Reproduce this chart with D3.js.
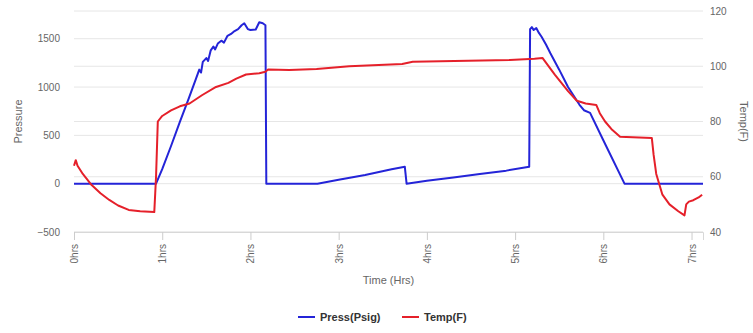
<!DOCTYPE html>
<html><head><meta charset="utf-8">
<script src="https://cdn.jsdelivr.net/npm/d3@7"></script>
<style>
body{margin:0;background:#fff;}
svg{display:block;font-family:"Liberation Sans",Arial,sans-serif;}
</style></head>
<body><svg id="c" width="753" height="333"></svg>
<script>
// Time (hours) and values
const pressTime = [0,0.93,1.0,1.1,1.2,1.3,1.38,1.42,1.44,1.46,1.5,1.52,1.55,1.58,1.6,1.63,1.67,1.7,1.74,1.78,1.82,1.86,1.9,1.93,1.97,2.0,2.06,2.1,2.14,2.17,2.18,2.76,3.0,3.3,3.6,3.75,3.77,4.0,4.3,4.6,4.9,5.16,5.17,5.19,5.21,5.24,5.27,5.3,5.35,5.4,5.5,5.6,5.73,5.78,5.85,6.0,6.24,7.13];
const pressVal  = [0,0,150,390,640,880,1080,1180,1150,1260,1300,1270,1380,1420,1390,1450,1480,1460,1530,1550,1580,1600,1640,1660,1600,1590,1595,1670,1660,1640,0,0,40,90,150,175,0,30,65,100,135,175,1600,1620,1590,1610,1560,1520,1440,1350,1180,1000,816,760,733,450,0,0];
const tempTime = [0,0.02,0.04,0.1,0.2,0.3,0.4,0.5,0.62,0.75,0.91,0.93,0.95,1.0,1.1,1.2,1.31,1.45,1.61,1.75,1.84,1.95,2.1,2.17,2.2,2.44,2.75,3.12,3.72,3.84,4.94,5.22,5.31,5.45,5.6,5.7,5.8,5.92,5.96,6.02,6.1,6.19,6.55,6.57,6.6,6.67,6.75,6.85,6.92,6.94,6.97,7.02,7.08,7.12];
const tempVal  = [64,66,64,61,57,54,51.6,49.6,48,47.5,47.2,60,80,82,84,85.5,86.5,89.5,92.5,94,95.5,97,97.5,98,98.8,98.6,99,100,100.8,101.6,102.3,102.7,103,97,91,87.5,86.5,86,83,80,77,74.5,74,68,61,53.5,50,47.5,46,50,51,51.5,52.5,53.5];
const hourTicks = [0,1,2,3,4,5,6,7];
const pressTicks = [-500,0,500,1000,1500];
const tempTicks = [40,60,80,100,120];
const seriesNames = ["Press(Psig)","Temp(F)"];
const seriesColors = ["#2424d8","#e5202a"];

const svg = d3.select("#c");
const L=74, R=703, T=11, B=232;
const x = d3.scaleLinear().domain([0,7.13]).range([L,R]);
const yP = d3.scaleLinear().domain([-500,1787]).range([B,T]);
const yT = d3.scaleLinear().domain([40,120]).range([B,T]);
const grey="#666";

// gridlines
const g = svg.append("g");
pressTicks.forEach(v=>g.append("line").attr("x1",L).attr("x2",R).attr("y1",yP(v)).attr("y2",yP(v)).attr("stroke","#e6e6e6"));
tempTicks.forEach(v=>g.append("line").attr("x1",L).attr("x2",R).attr("y1",yT(v)).attr("y2",yT(v)).attr("stroke","#e6e6e6"));

// x axis
const xa = svg.append("g").attr("transform",`translate(0,${B})`)
  .call(d3.axisBottom(x).tickValues(hourTicks).tickSize(8).tickFormat(d=>d+"hrs"));
xa.select(".domain").attr("stroke","#d8d8d8");
xa.selectAll(".tick line").attr("stroke","#ccc");
xa.selectAll("text").attr("fill",grey).style("font-size","10px")
  .attr("transform","rotate(-90)").attr("text-anchor","end").attr("x",-12).attr("y",0).attr("dy","0.35em");

// left axis
const ya = svg.append("g").attr("transform",`translate(${L},0)`)
  .call(d3.axisLeft(yP).tickValues(pressTicks).tickSize(0).tickPadding(14).tickFormat(d3.format("d")));
ya.select(".domain").remove();
ya.selectAll("text").attr("fill",grey).style("font-size","10px");

// right axis
const yb = svg.append("g").attr("transform",`translate(${R},0)`)
  .call(d3.axisRight(yT).tickValues(tempTicks).tickSize(0).tickPadding(7).tickFormat(d3.format("d")));
yb.select(".domain").remove();
yb.selectAll("text").attr("fill",grey).style("font-size","10px");

// titles
svg.append("text").attr("transform",`translate(22,${(T+B)/2}) rotate(-90)`).attr("text-anchor","middle")
  .attr("fill",grey).style("font-size","11px").text("Pressure");
svg.append("text").attr("transform",`translate(740,${(T+B)/2}) rotate(90)`).attr("text-anchor","middle")
  .attr("fill",grey).style("font-size","11px").text("Temp(F)");
svg.append("text").attr("x",(L+R)/2).attr("y",284).attr("text-anchor","middle")
  .attr("fill",grey).style("font-size","11px").text("Time (Hrs)");

// lines
const lineP = d3.line().x((d,i)=>x(pressTime[i])).y(d=>yP(d));
const lineT = d3.line().x((d,i)=>x(tempTime[i])).y(d=>yT(d));
svg.append("path").datum(pressVal).attr("d",lineP).attr("fill","none").attr("stroke",seriesColors[0]).attr("stroke-width",2).attr("stroke-linejoin","round");
svg.append("path").datum(tempVal).attr("d",lineT).attr("fill","none").attr("stroke",seriesColors[1]).attr("stroke-width",2).attr("stroke-linejoin","round");

// legend
const lx=[298,402];
seriesNames.forEach((n,i)=>{
  svg.append("line").attr("x1",lx[i]).attr("x2",lx[i]+17).attr("y1",317).attr("y2",317).attr("stroke",seriesColors[i]).attr("stroke-width",2);
  svg.append("text").attr("x",lx[i]+22).attr("y",321).attr("fill","#333").style("font-size","11px").style("font-weight","bold").text(n);
});
</script></body></html>
